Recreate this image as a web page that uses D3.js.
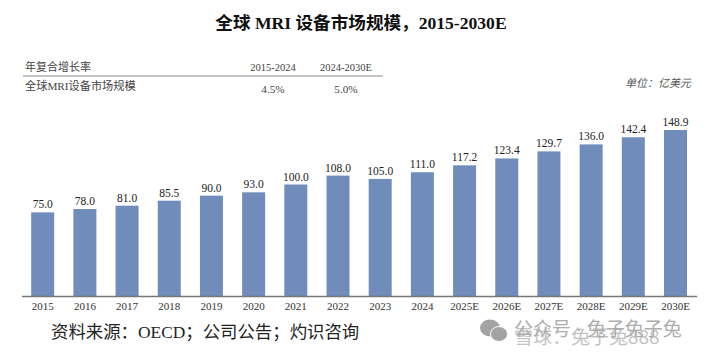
<!DOCTYPE html>
<html>
<head>
<meta charset="utf-8">
<script src="https://cdn.jsdelivr.net/npm/d3@7"></script>
<style>
  html, body { margin: 0; padding: 0; background: #fff; }
  svg { display: block; }
  text { font-family: "Liberation Serif", "Noto Sans CJK SC", serif; }
</style>
</head>
<body>
<script>
const years = ["2015","2016","2017","2018","2019","2020","2021","2022","2023","2024","2025E","2026E","2027E","2028E","2029E","2030E"];
const market = [75.0,78.0,81.0,85.5,90.0,93.0,100.0,108.0,105.0,111.0,117.2,123.4,129.7,136.0,142.4,148.9];
const cagrHeader = ["年复合增长率","2015-2024","2024-2030E"];
const cagrRow = ["全球MRI设备市场规模","4.5%","5.0%"];

const width = 722, height = 360;
const baseY = 296;

const svg = d3.select("body").append("svg")
    .attr("width", width)
    .attr("height", height);

svg.append("text")
    .attr("x", 361).attr("y", 29)
    .attr("text-anchor", "middle")
    .attr("font-size", 17.6)
    .attr("font-weight", "bold")
    .attr("fill", "#111")
    .text("全球 MRI 设备市场规模，2015-2030E");

// little table of growth rates
const colX = [25, 273, 346];
const tableColor = "#444";
cagrHeader.forEach((t, i) => {
  svg.append("text")
    .attr("x", colX[i]).attr("y", 71)
    .attr("text-anchor", i ? "middle" : "start")
    .attr("font-size", i ? 10.5 : 11)
    .attr("fill", tableColor)
    .text(t);
});
cagrRow.forEach((t, i) => {
  svg.append("text")
    .attr("x", colX[i]).attr("y", i ? 93 : 90)
    .attr("text-anchor", i ? "middle" : "start")
    .attr("font-size", 11.2)
    .attr("fill", tableColor)
    .text(t);
});
svg.append("line")
    .attr("x1", 23).attr("x2", 383)
    .attr("y1", 76).attr("y2", 76)
    .attr("stroke", "#888").attr("stroke-width", 1);

svg.append("text")
    .attr("x", 691).attr("y", 87)
    .attr("text-anchor", "end")
    .attr("font-size", 11)
    .attr("font-style", "italic")
    .attr("fill", "#555")
    .text("单位：亿美元");

// scales
const x = d3.scaleBand()
    .domain(years)
    .range([21.6, 696.6])
    .paddingInner(0.455)
    .paddingOuter(0.2275);

const y = d3.scaleLinear()
    .domain([0, 148.9])
    .range([baseY, 130]);

// bars
svg.append("g")
  .selectAll("rect")
  .data(market)
  .join("rect")
    .attr("x", (d, i) => x(years[i]))
    .attr("y", d => y(d))
    .attr("width", x.bandwidth())
    .attr("height", d => y(0) - y(d))
    .attr("fill", "#6f8cbb");

// value labels
svg.append("g")
  .selectAll("text")
  .data(market)
  .join("text")
    .attr("x", (d, i) => x(years[i]) + x.bandwidth() / 2)
    .attr("y", d => y(d) - 4)
    .attr("text-anchor", "middle")
    .attr("font-size", 11.5)
    .attr("fill", "#222")
    .text(d => d.toFixed(1));

// x axis
const axis = svg.append("g")
    .attr("transform", `translate(0,${baseY})`)
    .call(d3.axisBottom(x).tickSize(0).tickPadding(6));
axis.select(".domain").attr("stroke", "#777").attr("stroke-width", 1.5);
axis.selectAll("text")
    .attr("font-size", 11)
    .attr("fill", "#333")
    .style("font-family", '"Liberation Serif", "Noto Sans CJK SC", serif');

// source note
svg.append("text")
    .attr("x", 51).attr("y", 338)
    .attr("font-size", 17.4)
    .attr("fill", "#222")
    .text("资料来源：OECD；公司公告；灼识咨询");

// watermark
const mark = svg.append("g").attr("fill", "#a3a3a3");
mark.append("ellipse").attr("cx", 490).attr("cy", 328).attr("rx", 10).attr("ry", 8.5);
mark.append("ellipse").attr("cx", 499).attr("cy", 334).attr("rx", 8.5).attr("ry", 7.5)
    .attr("stroke", "#fff").attr("stroke-width", 1);
svg.append("text")
    .attr("x", 514).attr("y", 336)
    .attr("font-size", 19)
    .attr("fill", "#999")
    .attr("opacity", 0.8)
    .text("公众号 · 兔子兔子兔");
svg.append("text")
    .attr("x", 514).attr("y", 344)
    .attr("font-size", 19)
    .attr("fill", "#aaa")
    .attr("opacity", 0.7)
    .style("font-family", '"Noto Sans CJK SC", sans-serif')
    .text("雪球：兔子兔888");
</script>
</body>
</html>
